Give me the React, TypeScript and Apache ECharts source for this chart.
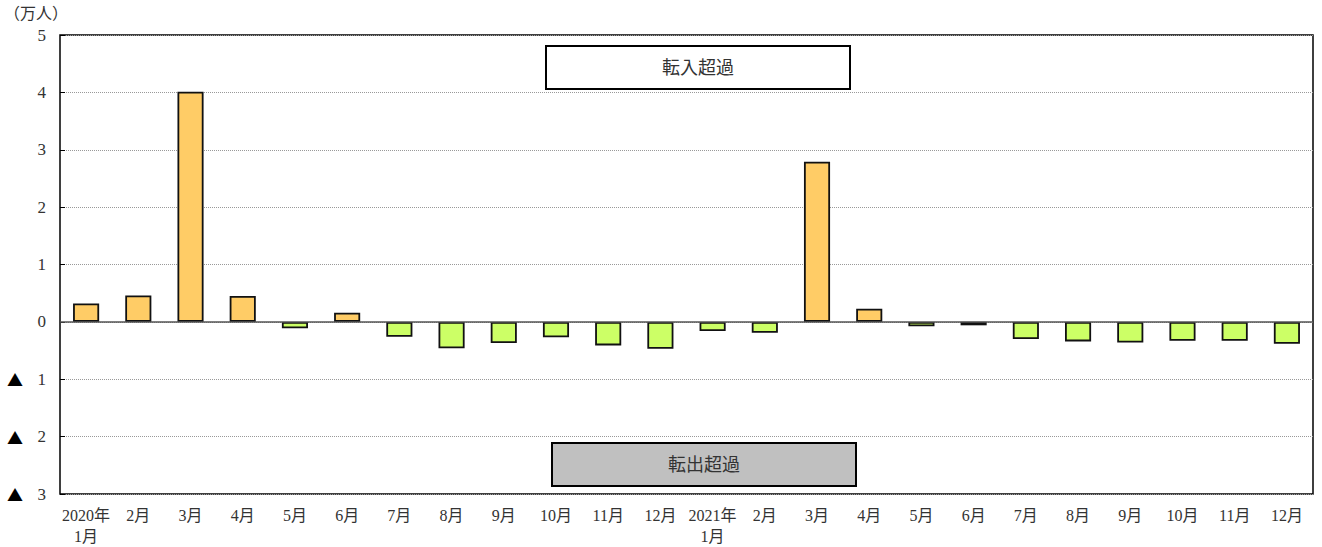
import React, { useEffect, useRef } from "react";
import * as echarts from "echarts";

const categories = [
  "2020年\n1月", "2月", "3月", "4月", "5月", "6月", "7月", "8月", "9月", "10月", "11月", "12月",
  "2021年\n1月", "2月", "3月", "4月", "5月", "6月", "7月", "8月", "9月", "10月", "11月", "12月",
];
const values = [
  0.32, 0.46, 4.01, 0.45, -0.11, 0.16, -0.26, -0.46, -0.37, -0.27, -0.41, -0.47,
  -0.16, -0.19, 2.79, 0.23, -0.075, -0.06, -0.3, -0.34, -0.36, -0.33, -0.33, -0.38,
];
const yTicks = [-3, -2, -1, 0, 1, 2, 3, 4, 5];
const unitLabel = "（万人）";
const inLabel = "転入超過";
const outLabel = "転出超過";

const FONT = "'Liberation Serif', 'Noto Sans CJK JP', serif";
const CJK = "'Noto Sans CJK JP', sans-serif";

export default function App() {
  const ref = useRef<HTMLDivElement>(null);
  useEffect(() => {
    if (!ref.current) return;
    const chart = echarts.init(ref.current, null, { renderer: "svg" });
    chart.setOption({
      animation: false,
      grid: {
        left: 60,
        right: 9,
        top: 35,
        bottom: 53,
        show: true,
        borderColor: "#000",
        borderWidth: 1.5,
        backgroundColor: "transparent",
      },
      xAxis: {
        type: "category",
        data: categories,
        axisLine: { show: false },
        axisTick: { show: false },
        axisLabel: {
          color: "#333",
          fontSize: 16,
          fontFamily: FONT,
          lineHeight: 21,
          margin: 11,
          interval: 0,
        },
      },
      yAxis: {
        type: "value",
        min: yTicks[0],
        max: yTicks[yTicks.length - 1],
        interval: 1,
        axisLine: { show: false },
        axisTick: { show: true, inside: true, length: 5, lineStyle: { color: "#000", width: 1 } },
        splitLine: { show: true, lineStyle: { color: "#999", type: "dotted", width: 1 } },
        axisLabel: {
          color: "#333",
          fontSize: 17,
          fontFamily: FONT,
          margin: 14,
          formatter: (v: number) => (v < 0 ? "{tri|▲}  " + -v : String(v)),
          rich: {
            tri: { fontSize: 16, fontFamily: CJK, color: "#000", padding: [0, 6, 0, 0] },
          },
        },
      },
      graphic: [
        {
          type: "text",
          left: 4,
          top: 5,
          style: { text: unitLabel, fill: "#333", font: `16px ${FONT}` },
        },
        {
          type: "group",
          left: 545,
          top: 45,
          children: [
            {
              type: "rect",
              shape: { x: 0, y: 0, width: 304, height: 43 },
              style: { fill: "#fff", stroke: "#000", lineWidth: 2 },
            },
            {
              type: "text",
              x: 152,
              y: 22,
              style: {
                text: inLabel,
                fill: "#333",
                font: `18px ${FONT}`,
                align: "center",
                verticalAlign: "middle",
              },
            },
          ],
        },
        {
          type: "group",
          left: 551,
          top: 442,
          children: [
            {
              type: "rect",
              shape: { x: 0, y: 0, width: 304, height: 43 },
              style: { fill: "#c0c0c0", stroke: "#000", lineWidth: 2 },
            },
            {
              type: "text",
              x: 152,
              y: 22,
              style: {
                text: outLabel,
                fill: "#333",
                font: `18px ${FONT}`,
                align: "center",
                verticalAlign: "middle",
              },
            },
          ],
        },
      ],
      series: [
        {
          type: "bar",
          data: values,
          barWidth: "50%",
          itemStyle: {
            color: (p: any) => (p.value >= 0 ? "#ffcc66" : "#ccff66"),
            borderColor: "#111",
            borderWidth: 1.8,
          },
          markLine: {
            silent: true,
            symbol: "none",
            label: { show: false },
            lineStyle: { color: "#555", type: "solid", width: 1.5 },
            data: [{ yAxis: 0 }],
          },
        },
      ],
    });
    return () => chart.dispose();
  }, []);
  return (
    <div
      ref={ref}
      style={{ position: "fixed", left: 0, top: 0, width: 1322, height: 547, background: "#fff" }}
    />
  );
}
